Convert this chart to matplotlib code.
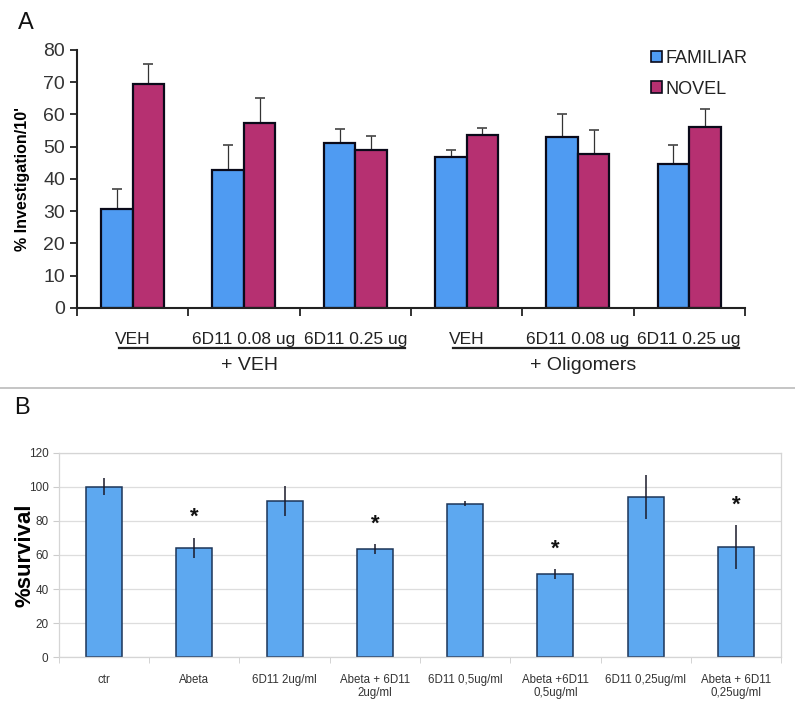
import numpy as np
import matplotlib
matplotlib.use("Agg")
import matplotlib.pyplot as plt
from matplotlib.lines import Line2D
from matplotlib.patches import Patch
import matplotlib.transforms as mtransforms

plt.rcParams['font.family'] = ['Liberation Sans', 'DejaVu Sans']

# ---- panel A data ----
groupsA = ["VEH", "6D11 0.08 ug", "6D11 0.25 ug", "VEH", "6D11 0.08 ug", "6D11 0.25 ug"]
familiar = [30.7, 42.9, 51.2, 46.8, 52.9, 44.6]
familiar_err = [6.2, 7.7, 4.3, 2.2, 7.4, 5.8]
novel = [69.5, 57.4, 49.1, 53.7, 47.7, 56.0]
novel_err = [6.0, 7.7, 4.2, 2.2, 7.6, 5.8]
treatA = ["+ VEH", "+ Oligomers"]

# ---- panel B data ----
catsB = ["ctr", "Abeta", "6D11 2ug/ml", "Abeta + 6D11\n2ug/ml", "6D11 0,5ug/ml",
         "Abeta +6D11\n0,5ug/ml", "6D11 0,25ug/ml", "Abeta + 6D11\n0,25ug/ml"]
survival = [100, 64.2, 91.8, 63.4, 90.2, 48.6, 94.1, 64.5]
survival_err = [5, 6, 9, 2.8, 1.5, 3, 13, 13]
signif = [False, True, False, True, False, True, False, True]

blueA = "#4F9BF2"
redA = "#B63071"
blueB = "#5DA8F0"

fig = plt.figure(figsize=(7.95, 7.07), dpi=100)

# ================= Panel A =================
axA = fig.add_axes([0.0969, 0.5644, 0.8400, 0.3649])
x = np.arange(len(groupsA))
w = 0.283
axA.bar(x - w/2, familiar, w, color=blueA, edgecolor="#0a0a1a", linewidth=1.6, zorder=2)
axA.bar(x + w/2, novel, w, color=redA, edgecolor="#0a0a1a", linewidth=1.6, zorder=2)
axA.errorbar(x - w/2, familiar, yerr=[np.zeros(6), familiar_err], fmt="none",
             ecolor="#333333", elinewidth=0.9, capsize=3.5, capthick=1.1, zorder=1)
axA.errorbar(x + w/2, novel, yerr=[np.zeros(6), novel_err], fmt="none",
             ecolor="#333333", elinewidth=0.9, capsize=3.5, capthick=1.1, zorder=1)

axA.set_xlim(-0.5, len(groupsA) - 0.5)
axA.set_ylim(0, 80)
axA.set_yticks(np.arange(0, 81, 10))
axA.tick_params(axis="y", labelsize=14, length=5, width=1.3, colors="#222222",
                labelcolor="#333333")
axA.set_xticks(x)
axA.set_xticklabels(groupsA, fontsize=12.5)
axA.tick_params(axis="x", which="major", length=0, pad=17, labelcolor="#222222")
axA.set_xticks(np.arange(-0.5, len(groupsA)), minor=True)
axA.tick_params(axis="x", which="minor", length=6, width=1.3, color="#222222")
for s in ["top", "right"]:
    axA.spines[s].set_visible(False)
for s in ["left", "bottom"]:
    axA.spines[s].set_linewidth(1.5)
    axA.spines[s].set_color("#222222")
axA.set_ylabel("% Investigation/10'", fontsize=11.5, fontweight="bold")
axA.yaxis.set_label_coords(-0.07, 0.5)

# group underlines and treatment labels
trans = mtransforms.blended_transform_factory(axA.transData, axA.transAxes)
for k, name in enumerate(treatA):
    first, last = 3 * k, 3 * k + 2
    axA.add_line(Line2D([first - 0.12, last + 0.45], [-0.155, -0.155], transform=trans,
                        color="#222222", linewidth=1.6, clip_on=False))
    axA.text(first + 1.05, -0.222, name, transform=trans, ha="center",
             va="center", fontsize=14, color="#222222")

handles = [Patch(facecolor=blueA, edgecolor="#0a0a1a", linewidth=1.2),
           Patch(facecolor=redA, edgecolor="#0a0a1a", linewidth=1.2)]
axA.legend(handles, ["FAMILIAR", "NOVEL"], loc="upper left", bbox_to_anchor=(0.846, 1.035),
           frameon=False, fontsize=13, handlelength=0.6, handleheight=0.6,
           handletextpad=0.2, labelspacing=0.75, borderpad=0, labelcolor="#222222")

fig.text(0.022, 0.968, "A", fontsize=17, color="#111111", va="center")

# separator
fig.add_artist(Line2D([0, 1], [1 - 388 / 707, 1 - 388 / 707], color="#bbbbbb", linewidth=1.2))

# ================= Panel B =================
axB = fig.add_axes([0.0742, 0.0707, 0.9082, 0.2886])
xb = np.arange(len(catsB))
axB.bar(xb, survival, 0.4, color=blueB, edgecolor="#1c3558", linewidth=1.1, zorder=2)
axB.errorbar(xb, survival, yerr=survival_err, fmt="none", ecolor="#1a1a2a",
             elinewidth=1.1, capsize=0, zorder=3)
for xi, v, e, s in zip(xb, survival, survival_err, signif):
    if s:
        axB.text(xi, v + e + 12, "*", ha="center", va="center", fontsize=16,
                 fontweight="bold", color="#111111")

axB.set_xlim(-0.5, len(catsB) - 0.5)
axB.set_ylim(0, 120)
axB.set_yticks(np.arange(0, 121, 20))
axB.yaxis.grid(True, color="#dddddd", linewidth=0.9, zorder=0)
axB.set_axisbelow(True)
axB.tick_params(axis="y", labelsize=8.5, length=4, color="#cccccc", labelcolor="#333333")
axB.set_xticks(xb)
axB.set_xticklabels(catsB, fontsize=8.3, color="#333333")
axB.tick_params(axis="x", which="major", length=0, pad=12)
axB.set_xticks(np.arange(-0.5, len(catsB)), minor=True)
axB.tick_params(axis="x", which="minor", length=4, color="#cccccc")
for s in ["top", "right", "left", "bottom"]:
    axB.spines[s].set_color("#d5d5d5")
    axB.spines[s].set_linewidth(0.9)
axB.set_ylabel("%survival", fontsize=16, fontweight="bold")
axB.yaxis.set_label_coords(-0.033, 0.5)

fig.text(0.018, 0.423, "B", fontsize=17, color="#111111", va="center")

fig.savefig("out.png", dpi=100)
